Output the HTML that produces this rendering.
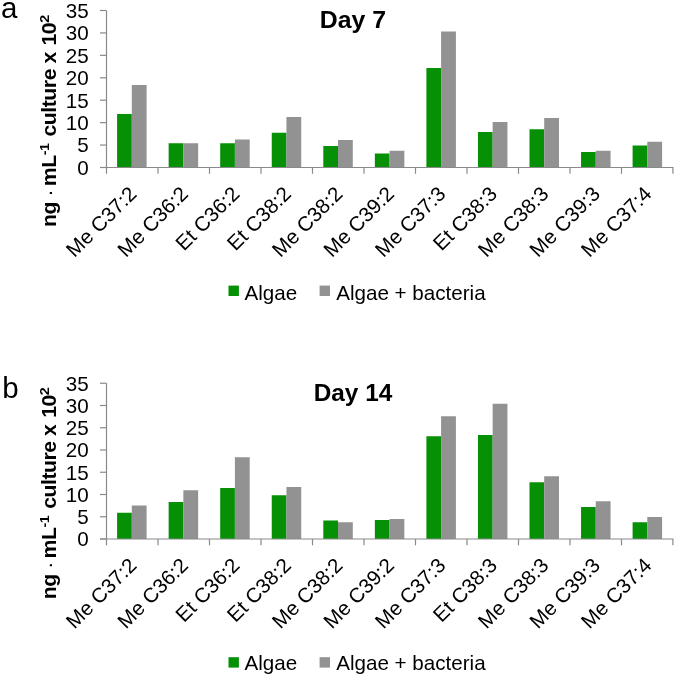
<!DOCTYPE html>
<html><head><meta charset="utf-8"><title>Chart</title>
<style>
html,body{margin:0;padding:0;background:#fff;}
svg{display:block;font-family:"Liberation Sans",Arial,sans-serif;fill:#000;}
</style></head><body>
<svg width="676" height="678" viewBox="0 0 676 678">
<rect x="0" y="0" width="676" height="678" fill="#ffffff"/>
<rect x="117.10" y="114.00" width="14.7" height="53.50" fill="#059005"/>
<rect x="131.80" y="85.00" width="14.8" height="82.50" fill="#929292"/>
<rect x="168.65" y="143.25" width="14.7" height="24.25" fill="#059005"/>
<rect x="183.35" y="143.25" width="14.8" height="24.25" fill="#929292"/>
<rect x="220.20" y="143.25" width="14.7" height="24.25" fill="#059005"/>
<rect x="234.90" y="139.50" width="14.8" height="28.00" fill="#929292"/>
<rect x="271.75" y="132.75" width="14.7" height="34.75" fill="#059005"/>
<rect x="286.45" y="117.00" width="14.8" height="50.50" fill="#929292"/>
<rect x="323.30" y="146.00" width="14.7" height="21.50" fill="#059005"/>
<rect x="338.00" y="140.00" width="14.8" height="27.50" fill="#929292"/>
<rect x="374.85" y="153.50" width="14.7" height="14.00" fill="#059005"/>
<rect x="389.55" y="150.75" width="14.8" height="16.75" fill="#929292"/>
<rect x="426.40" y="68.00" width="14.7" height="99.50" fill="#059005"/>
<rect x="441.10" y="31.50" width="14.8" height="136.00" fill="#929292"/>
<rect x="477.95" y="132.00" width="14.7" height="35.50" fill="#059005"/>
<rect x="492.65" y="122.00" width="14.8" height="45.50" fill="#929292"/>
<rect x="529.50" y="129.25" width="14.7" height="38.25" fill="#059005"/>
<rect x="544.20" y="118.00" width="14.8" height="49.50" fill="#929292"/>
<rect x="581.05" y="152.00" width="14.7" height="15.50" fill="#059005"/>
<rect x="595.75" y="150.75" width="14.8" height="16.75" fill="#929292"/>
<rect x="632.60" y="145.50" width="14.7" height="22.00" fill="#059005"/>
<rect x="647.30" y="141.75" width="14.8" height="25.75" fill="#929292"/>
<line x1="106.5" y1="10.5" x2="106.5" y2="167.5" stroke="#8a8a8a" stroke-width="1.2"/>
<line x1="100.0" y1="167.5" x2="673.4" y2="167.5" stroke="#8a8a8a" stroke-width="1.2"/>
<line x1="100.0" y1="167.50" x2="106.5" y2="167.50" stroke="#8a8a8a" stroke-width="1.2"/>
<text x="88.7" y="174.85" text-anchor="end" font-size="20.6">0</text>
<line x1="100.0" y1="145.07" x2="106.5" y2="145.07" stroke="#8a8a8a" stroke-width="1.2"/>
<text x="88.7" y="152.42" text-anchor="end" font-size="20.6">5</text>
<line x1="100.0" y1="122.64" x2="106.5" y2="122.64" stroke="#8a8a8a" stroke-width="1.2"/>
<text x="88.7" y="129.99" text-anchor="end" font-size="20.6">10</text>
<line x1="100.0" y1="100.21" x2="106.5" y2="100.21" stroke="#8a8a8a" stroke-width="1.2"/>
<text x="88.7" y="107.56" text-anchor="end" font-size="20.6">15</text>
<line x1="100.0" y1="77.79" x2="106.5" y2="77.79" stroke="#8a8a8a" stroke-width="1.2"/>
<text x="88.7" y="85.14" text-anchor="end" font-size="20.6">20</text>
<line x1="100.0" y1="55.36" x2="106.5" y2="55.36" stroke="#8a8a8a" stroke-width="1.2"/>
<text x="88.7" y="62.71" text-anchor="end" font-size="20.6">25</text>
<line x1="100.0" y1="32.93" x2="106.5" y2="32.93" stroke="#8a8a8a" stroke-width="1.2"/>
<text x="88.7" y="40.28" text-anchor="end" font-size="20.6">30</text>
<line x1="100.0" y1="10.50" x2="106.5" y2="10.50" stroke="#8a8a8a" stroke-width="1.2"/>
<text x="88.7" y="17.85" text-anchor="end" font-size="20.6">35</text>
<line x1="106.50" y1="167.5" x2="106.50" y2="173.8" stroke="#8a8a8a" stroke-width="1.2"/>
<line x1="158.00" y1="167.5" x2="158.00" y2="173.8" stroke="#8a8a8a" stroke-width="1.2"/>
<line x1="209.50" y1="167.5" x2="209.50" y2="173.8" stroke="#8a8a8a" stroke-width="1.2"/>
<line x1="261.00" y1="167.5" x2="261.00" y2="173.8" stroke="#8a8a8a" stroke-width="1.2"/>
<line x1="312.50" y1="167.5" x2="312.50" y2="173.8" stroke="#8a8a8a" stroke-width="1.2"/>
<line x1="364.00" y1="167.5" x2="364.00" y2="173.8" stroke="#8a8a8a" stroke-width="1.2"/>
<line x1="415.50" y1="167.5" x2="415.50" y2="173.8" stroke="#8a8a8a" stroke-width="1.2"/>
<line x1="467.00" y1="167.5" x2="467.00" y2="173.8" stroke="#8a8a8a" stroke-width="1.2"/>
<line x1="518.50" y1="167.5" x2="518.50" y2="173.8" stroke="#8a8a8a" stroke-width="1.2"/>
<line x1="570.00" y1="167.5" x2="570.00" y2="173.8" stroke="#8a8a8a" stroke-width="1.2"/>
<line x1="621.50" y1="167.5" x2="621.50" y2="173.8" stroke="#8a8a8a" stroke-width="1.2"/>
<line x1="672.90" y1="167.5" x2="672.90" y2="173.8" stroke="#8a8a8a" stroke-width="1.2"/>
<text transform="translate(137.75,195.10) rotate(-45)" text-anchor="end" font-size="20.6">Me C37:2</text>
<text transform="translate(189.25,195.10) rotate(-45)" text-anchor="end" font-size="20.6">Me C36:2</text>
<text transform="translate(240.75,195.10) rotate(-45)" text-anchor="end" font-size="20.6">Et C36:2</text>
<text transform="translate(292.25,195.10) rotate(-45)" text-anchor="end" font-size="20.6">Et C38:2</text>
<text transform="translate(343.75,195.10) rotate(-45)" text-anchor="end" font-size="20.6">Me C38:2</text>
<text transform="translate(395.25,195.10) rotate(-45)" text-anchor="end" font-size="20.6">Me C39:2</text>
<text transform="translate(446.75,195.10) rotate(-45)" text-anchor="end" font-size="20.6">Me C37:3</text>
<text transform="translate(498.25,195.10) rotate(-45)" text-anchor="end" font-size="20.6">Et C38:3</text>
<text transform="translate(549.75,195.10) rotate(-45)" text-anchor="end" font-size="20.6">Me C38:3</text>
<text transform="translate(601.25,195.10) rotate(-45)" text-anchor="end" font-size="20.6">Me C39:3</text>
<text transform="translate(652.75,195.10) rotate(-45)" text-anchor="end" font-size="20.6">Me C37:4</text>
<text transform="translate(353,28.0) scale(1.08,1)" text-anchor="middle" font-size="23" font-weight="bold">Day 7</text>
<text x="0.9" y="18.1" font-size="29.5">a</text>
<text transform="translate(55.8,227.0) rotate(-90) scale(1.06,1)" font-size="20" font-weight="bold" letter-spacing="-0.42">ng <tspan font-weight="normal">·</tspan> <tspan dx="-1.6">mL</tspan><tspan font-size="13.5" dy="-6.5">-1</tspan><tspan dy="6.5" dx="1.4"> culture x <tspan dx="1.2">10</tspan></tspan><tspan font-size="13.5" dy="-6.5">2</tspan></text>
<rect x="228.5" y="285.60" width="10.4" height="10.4" fill="#059005"/>
<text x="244.5" y="299.5" font-size="20.6">Algae</text>
<rect x="319.6" y="285.60" width="10.4" height="10.4" fill="#929292"/>
<text x="336.2" y="299.5" font-size="20.6">Algae + bacteria</text>
<rect x="117.10" y="512.75" width="14.7" height="26.25" fill="#059005"/>
<rect x="131.80" y="505.50" width="14.8" height="33.50" fill="#929292"/>
<rect x="168.65" y="502.00" width="14.7" height="37.00" fill="#059005"/>
<rect x="183.35" y="490.25" width="14.8" height="48.75" fill="#929292"/>
<rect x="220.20" y="488.00" width="14.7" height="51.00" fill="#059005"/>
<rect x="234.90" y="457.25" width="14.8" height="81.75" fill="#929292"/>
<rect x="271.75" y="495.25" width="14.7" height="43.75" fill="#059005"/>
<rect x="286.45" y="487.00" width="14.8" height="52.00" fill="#929292"/>
<rect x="323.30" y="520.50" width="14.7" height="18.50" fill="#059005"/>
<rect x="338.00" y="522.25" width="14.8" height="16.75" fill="#929292"/>
<rect x="374.85" y="520.00" width="14.7" height="19.00" fill="#059005"/>
<rect x="389.55" y="519.00" width="14.8" height="20.00" fill="#929292"/>
<rect x="426.40" y="436.25" width="14.7" height="102.75" fill="#059005"/>
<rect x="441.10" y="416.25" width="14.8" height="122.75" fill="#929292"/>
<rect x="477.95" y="435.00" width="14.7" height="104.00" fill="#059005"/>
<rect x="492.65" y="403.75" width="14.8" height="135.25" fill="#929292"/>
<rect x="529.50" y="482.25" width="14.7" height="56.75" fill="#059005"/>
<rect x="544.20" y="476.25" width="14.8" height="62.75" fill="#929292"/>
<rect x="581.05" y="507.00" width="14.7" height="32.00" fill="#059005"/>
<rect x="595.75" y="501.25" width="14.8" height="37.75" fill="#929292"/>
<rect x="632.60" y="522.25" width="14.7" height="16.75" fill="#059005"/>
<rect x="647.30" y="517.00" width="14.8" height="22.00" fill="#929292"/>
<line x1="106.5" y1="383.25" x2="106.5" y2="539.0" stroke="#8a8a8a" stroke-width="1.2"/>
<line x1="100.0" y1="539.0" x2="673.4" y2="539.0" stroke="#8a8a8a" stroke-width="1.2"/>
<line x1="100.0" y1="539.00" x2="106.5" y2="539.00" stroke="#8a8a8a" stroke-width="1.2"/>
<text x="88.7" y="546.35" text-anchor="end" font-size="20.6">0</text>
<line x1="100.0" y1="516.75" x2="106.5" y2="516.75" stroke="#8a8a8a" stroke-width="1.2"/>
<text x="88.7" y="524.10" text-anchor="end" font-size="20.6">5</text>
<line x1="100.0" y1="494.50" x2="106.5" y2="494.50" stroke="#8a8a8a" stroke-width="1.2"/>
<text x="88.7" y="501.85" text-anchor="end" font-size="20.6">10</text>
<line x1="100.0" y1="472.25" x2="106.5" y2="472.25" stroke="#8a8a8a" stroke-width="1.2"/>
<text x="88.7" y="479.60" text-anchor="end" font-size="20.6">15</text>
<line x1="100.0" y1="450.00" x2="106.5" y2="450.00" stroke="#8a8a8a" stroke-width="1.2"/>
<text x="88.7" y="457.35" text-anchor="end" font-size="20.6">20</text>
<line x1="100.0" y1="427.75" x2="106.5" y2="427.75" stroke="#8a8a8a" stroke-width="1.2"/>
<text x="88.7" y="435.10" text-anchor="end" font-size="20.6">25</text>
<line x1="100.0" y1="405.50" x2="106.5" y2="405.50" stroke="#8a8a8a" stroke-width="1.2"/>
<text x="88.7" y="412.85" text-anchor="end" font-size="20.6">30</text>
<line x1="100.0" y1="383.25" x2="106.5" y2="383.25" stroke="#8a8a8a" stroke-width="1.2"/>
<text x="88.7" y="390.60" text-anchor="end" font-size="20.6">35</text>
<line x1="106.50" y1="539.0" x2="106.50" y2="545.3" stroke="#8a8a8a" stroke-width="1.2"/>
<line x1="158.00" y1="539.0" x2="158.00" y2="545.3" stroke="#8a8a8a" stroke-width="1.2"/>
<line x1="209.50" y1="539.0" x2="209.50" y2="545.3" stroke="#8a8a8a" stroke-width="1.2"/>
<line x1="261.00" y1="539.0" x2="261.00" y2="545.3" stroke="#8a8a8a" stroke-width="1.2"/>
<line x1="312.50" y1="539.0" x2="312.50" y2="545.3" stroke="#8a8a8a" stroke-width="1.2"/>
<line x1="364.00" y1="539.0" x2="364.00" y2="545.3" stroke="#8a8a8a" stroke-width="1.2"/>
<line x1="415.50" y1="539.0" x2="415.50" y2="545.3" stroke="#8a8a8a" stroke-width="1.2"/>
<line x1="467.00" y1="539.0" x2="467.00" y2="545.3" stroke="#8a8a8a" stroke-width="1.2"/>
<line x1="518.50" y1="539.0" x2="518.50" y2="545.3" stroke="#8a8a8a" stroke-width="1.2"/>
<line x1="570.00" y1="539.0" x2="570.00" y2="545.3" stroke="#8a8a8a" stroke-width="1.2"/>
<line x1="621.50" y1="539.0" x2="621.50" y2="545.3" stroke="#8a8a8a" stroke-width="1.2"/>
<line x1="672.90" y1="539.0" x2="672.90" y2="545.3" stroke="#8a8a8a" stroke-width="1.2"/>
<text transform="translate(137.75,566.60) rotate(-45)" text-anchor="end" font-size="20.6">Me C37:2</text>
<text transform="translate(189.25,566.60) rotate(-45)" text-anchor="end" font-size="20.6">Me C36:2</text>
<text transform="translate(240.75,566.60) rotate(-45)" text-anchor="end" font-size="20.6">Et C36:2</text>
<text transform="translate(292.25,566.60) rotate(-45)" text-anchor="end" font-size="20.6">Et C38:2</text>
<text transform="translate(343.75,566.60) rotate(-45)" text-anchor="end" font-size="20.6">Me C38:2</text>
<text transform="translate(395.25,566.60) rotate(-45)" text-anchor="end" font-size="20.6">Me C39:2</text>
<text transform="translate(446.75,566.60) rotate(-45)" text-anchor="end" font-size="20.6">Me C37:3</text>
<text transform="translate(498.25,566.60) rotate(-45)" text-anchor="end" font-size="20.6">Et C38:3</text>
<text transform="translate(549.75,566.60) rotate(-45)" text-anchor="end" font-size="20.6">Me C38:3</text>
<text transform="translate(601.25,566.60) rotate(-45)" text-anchor="end" font-size="20.6">Me C39:3</text>
<text transform="translate(652.75,566.60) rotate(-45)" text-anchor="end" font-size="20.6">Me C37:4</text>
<text transform="translate(353,401.0) scale(1.06,1)" text-anchor="middle" font-size="23" font-weight="bold">Day 14</text>
<text x="2.2" y="398.2" font-size="29.5">b</text>
<text transform="translate(55.8,599.3) rotate(-90) scale(1.06,1)" font-size="20" font-weight="bold" letter-spacing="-0.42">ng <tspan font-weight="normal">·</tspan> <tspan dx="-1.6">mL</tspan><tspan font-size="13.5" dy="-6.5">-1</tspan><tspan dy="6.5" dx="1.4"> culture x <tspan dx="1.2">10</tspan></tspan><tspan font-size="13.5" dy="-6.5">2</tspan></text>
<rect x="228.5" y="657.20" width="10.4" height="10.4" fill="#059005"/>
<text x="244.5" y="670.0" font-size="20.6">Algae</text>
<rect x="319.6" y="657.20" width="10.4" height="10.4" fill="#929292"/>
<text x="336.2" y="670.0" font-size="20.6">Algae + bacteria</text>
</svg>
</body></html>
